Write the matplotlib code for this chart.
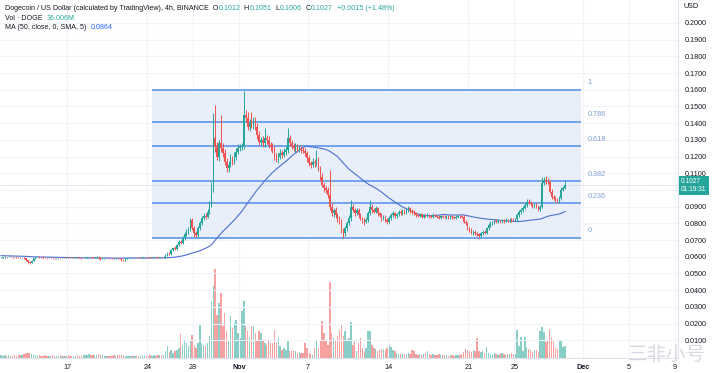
import numpy as np
import pandas as pd
import matplotlib
matplotlib.use("Agg")
import matplotlib.pyplot as plt
import matplotlib.dates as mdates
from matplotlib.patches import Rectangle

plt.rcParams['font.family'] = ['Liberation Sans', 'DejaVu Sans']

# ---------------- data (prices in 1e-4 USD, volume in millions DOGE) ----------------
first_open = 594
closes = [
    595, 597, 599, 598, 600, 598, 597, 596, 595, 594, 592, 593, 590, 580, 568, 565, 575, 590, 598, 600, 597,
    596, 594, 593, 592, 594, 593, 592, 591, 592, 593, 592, 594, 593, 595, 594, 593, 592, 594, 595, 594, 593, 592, 593, 594, 596,
    598, 596, 594, 597, 600, 592, 586, 590, 592, 594, 593, 592, 591, 590, 592, 591, 588, 582, 580, 588,
    592, 593, 594, 593, 595, 594, 593, 595, 596, 598, 597, 596, 595, 596, 597, 596, 595, 597, 596, 598,
    610, 622, 618, 640, 652, 648, 670, 690, 685, 712, 735, 750, 765, 820, 770, 745, 730, 770, 800, 830, 845, 840, 870, 915, 1020,
    1310, 1260, 1200, 1280, 1250, 1220, 1170, 1130, 1150, 1185, 1170, 1200, 1230, 1250, 1255, 1265,
    1450, 1430, 1380, 1400, 1390, 1410, 1380, 1330, 1290, 1300, 1280, 1310, 1300, 1270, 1260,
    1240, 1200, 1180, 1200, 1220, 1210, 1230, 1240, 1310, 1280, 1265, 1250, 1260, 1245, 1250, 1240, 1235,
    1220, 1190, 1160, 1150, 1170, 1160, 1175, 1130, 1080, 1030, 1010, 1000, 970,
    900, 860, 880, 850, 830, 810, 760, 740, 770, 800, 830, 900,
    880, 860, 880, 850, 830, 820, 810, 820, 860, 900, 880, 870, 890, 860, 850, 830,
    840, 820, 810, 830, 850, 860, 845, 855, 870, 860, 875, 865, 880, 890, 875, 868,
    860, 850, 845, 855, 840, 850, 845, 850, 845, 840, 850, 845, 840, 835, 842, 840,
    838, 840, 836, 842, 838, 835, 840, 845, 842, 840,
    810, 800, 770, 760, 745, 750, 740, 735, 725, 740, 750, 745,
    770, 790, 800, 805, 815, 810, 815, 812, 818, 815, 820, 818, 822, 821, 820, 825,
    850, 870, 880, 895, 910, 930, 925, 915, 905, 910, 900, 885, 900,
    1040, 1060, 1050, 1045, 990, 960, 950, 940, 935, 950, 1000, 1012, 1027,
]
upper_wick = [
    3, 2, 3, 2, 3, 2, 2, 3, 2, 2, 3, 2, 3, 4, 3, 4, 5, 4, 3, 4, 3,
    2, 3, 2, 2, 3, 2, 2, 3, 2, 2, 3, 2, 2, 3, 2, 2, 3, 2, 2, 3, 2, 3, 2, 2, 3,
    3, 2, 3, 4, 5, 3, 2, 3, 2, 3, 2, 2, 3, 2, 3, 2, 2, 3, 2, 3,
    2, 3, 2, 2, 3, 2, 2, 3, 2, 3, 2, 2, 3, 2, 2, 3, 2, 3, 2, 4,
    6, 5, 8, 6, 8, 10, 8, 10, 12, 10, 12, 15, 15, 15, 12, 15, 10, 12, 15, 12, 15, 20, 18, 20, 30,
    150, 200, 30, 20, 170, 30, 25, 20, 25, 30, 20, 25, 20, 25, 20, 15,
    140, 30, 35, 25, 70, 30, 25, 20, 25, 20, 25, 60, 20, 25, 20,
    20, 25, 20, 20, 25, 20, 20, 25, 60, 20, 20, 15, 20, 15, 20, 15, 15,
    15, 15, 20, 15, 20, 15, 65, 20, 15, 20, 15, 15, 15,
    150, 20, 15, 20, 15, 15, 15, 15, 15, 15, 20, 40,
    15, 10, 15, 10, 10, 10, 10, 10, 15, 40, 15, 10, 15, 10, 10, 10,
    10, 10, 10, 12, 10, 12, 10, 10, 12, 10, 10, 10, 12, 15, 10, 10,
    10, 8, 8, 10, 8, 8, 8, 10, 8, 8, 10, 8, 8, 8, 10, 8,
    8, 8, 10, 8, 8, 8, 10, 8, 8, 8,
    10, 12, 10, 10, 12, 10, 10, 8, 10, 10, 12, 10,
    10, 10, 12, 10, 12, 10, 10, 8, 10, 8, 10, 8, 10, 8, 10, 10,
    10, 12, 10, 12, 12, 15, 15, 10, 10, 12, 10, 10, 12,
    40, 20, 25, 20, 15, 15, 12, 15, 12, 12, 15, 10, 24,
]
lower_wick = [
    2, 3, 2, 3, 2, 2, 3, 2, 3, 2, 2, 3, 4, 5, 6, 8, 3, 2, 3, 2, 3,
    3, 2, 2, 3, 2, 2, 3, 2, 2, 3, 2, 2, 3, 2, 2, 3, 2, 2, 3, 2, 2, 3, 2, 3, 2,
    2, 3, 2, 3, 2, 3, 4, 2, 3, 2, 2, 3, 2, 2, 3, 2, 4, 5, 6, 3,
    3, 2, 2, 3, 2, 2, 3, 2, 3, 2, 2, 3, 2, 2, 3, 2, 2, 3, 2, 3,
    4, 5, 6, 5, 6, 8, 6, 8, 10, 8, 10, 10, 12, 12, 10, 25, 12, 12, 10, 12, 10, 12, 10, 15, 15,
    30, 30, 20, 25, 20, 25, 20, 20, 20, 15, 20, 15, 20, 15, 15, 15,
    20, 25, 20, 25, 20, 25, 20, 25, 20, 25, 20, 20, 25, 20, 25,
    20, 20, 15, 20, 15, 20, 15, 20, 20, 15, 20, 15, 20, 15, 15, 20, 15,
    15, 20, 15, 20, 15, 20, 15, 15, 20, 15, 20, 15, 20,
    20, 15, 20, 15, 20, 15, 20, 25, 15, 15, 10, 15,
    10, 15, 10, 15, 10, 15, 20, 10, 10, 10, 15, 10, 10, 15, 10, 15,
    10, 12, 12, 10, 10, 10, 12, 10, 10, 12, 10, 10, 10, 10, 12, 10,
    8, 10, 8, 8, 10, 8, 8, 8, 10, 8, 8, 8, 10, 8, 8, 8,
    8, 10, 8, 8, 10, 8, 8, 8, 10, 8,
    10, 10, 12, 10, 10, 12, 10, 10, 13, 10, 10, 10,
    8, 10, 10, 10, 8, 10, 8, 10, 8, 10, 8, 10, 8, 10, 8, 8,
    10, 10, 12, 10, 10, 12, 10, 10, 12, 10, 10, 10, 10,
    10, 12, 15, 12, 10, 15, 12, 12, 15, 10, 10, 8, 6,
]
volume_m = [
    8, 7, 9, 6, 8, 7, 6, 8, 7, 9, 8, 10, 12, 14, 16, 15, 11, 9, 8, 7, 8,
    7, 6, 8, 7, 6, 7, 8, 6, 7, 6, 8, 7, 6, 7, 8, 6, 7, 6, 7, 8, 6, 7, 8, 9, 8,
    12, 10, 9, 8, 9, 11, 10, 8, 7, 6, 7, 6, 7, 8, 7, 8, 9, 8, 10, 7,
    6, 7, 6, 7, 6, 7, 6, 7, 8, 7, 6, 7, 8, 7, 8, 7, 8, 9, 8, 10,
    20, 36, 18, 24, 15, 20, 25, 30, 72, 40, 55, 45, 35, 50, 69, 40, 30, 45, 99, 45, 40, 35, 45, 65, 171,
    216, 267, 130, 165, 195, 96, 135, 81, 54, 126, 90, 105, 114, 75, 60, 141,
    171, 96, 81, 60, 96, 96, 75, 54, 81, 75, 51, 45, 39, 51, 45,
    45, 84, 45, 60, 36, 24, 30, 24, 51, 21, 21, 24, 21, 15, 18, 15, 15,
    45, 30, 15, 12, 9, 30, 51, 30, 51, 111, 75, 51, 39,
    228, 75, 60, 51, 66, 84, 99, 66, 81, 51, 60, 108,
    39, 51, 21, 45, 60, 30, 21, 30, 81, 81, 39, 30, 27, 21, 24, 27,
    27, 24, 30, 39, 33, 24, 21, 15, 12, 12, 15, 12, 12, 15, 12, 24,
    21, 12, 9, 12, 9, 12, 15, 21, 12, 9, 12, 9, 10, 12, 9, 8,
    8, 9, 7, 8, 9, 7, 8, 9, 10, 12,
    18, 27, 24, 21, 18, 24, 21, 60, 21, 18, 21, 15,
    33, 15, 12, 9, 15, 12, 9, 12, 15, 12, 9, 12, 12, 15, 12, 12,
    84, 36, 63, 21, 63, 33, 27, 24, 18, 21, 24, 18, 81,
    93, 77, 47, 52, 87, 64, 52, 30, 27, 54, 54, 33, 36,
]
# closes before the first visible candle (needed for the 50-period SMA)
warmup_closes = [
    612, 610, 611, 609, 612, 613, 611, 610, 608, 609, 611, 612, 610, 609, 607, 608, 610,
    611, 609, 608, 606, 607, 609, 610, 608, 607, 605, 606, 608, 607, 605, 604, 606, 607,
    605, 603, 604, 606, 605, 603, 602, 604, 605, 603, 601, 602, 604, 603, 600,
]
first_candle_time = "2022-10-11 06:00"
ma_period = 50

# Fibonacci retracement
fib_levels = [1, 0.786, 0.618, 0.382, 0.236, 0]
fib_labels = ["1", "0.786", "0.618", "0.382", "0.236", "0"]
fib_high = 0.1599
fib_low = 0.0713
fib_start = "2022-10-24 10:00"
fib_end = "2022-11-30 19:00"

price_ticks = [round(0.01 * k, 2) for k in range(1, 21)]
date_ticks = ["2022-10-17", "2022-10-24", "2022-10-28", "2022-11-01", "2022-11-07",
              "2022-11-14", "2022-11-21", "2022-11-25", "2022-12-01", "2022-12-05", "2022-12-09"]
date_tick_labels = ["17", "24", "28", "Nov", "7", "14", "21", "25", "Dec", "5", "9"]

last_o, last_h, last_l, last_c = "0.1012", "0.1051", "0.1006", "0.1027"
change_txt = "+0.0015 (+1.48%)"
vol_txt = "36.006M"
ma_txt = "0.0864"
countdown = "01:19:31"
watermark = "三非小号"

# ---------------- derived ----------------
scale = 1e-4
c = np.array(closes) * scale
o = np.concatenate([[first_open * scale], c[:-1]])
h = np.maximum(o, c) + np.array(upper_wick) * scale
l = np.minimum(o, c) - np.array(lower_wick) * scale
vol = np.array(volume_m, dtype=float)
n = len(c)
times = pd.date_range(first_candle_time, periods=n, freq="4h")
x = mdates.date2num(times.to_pydatetime())
sma = pd.Series(np.concatenate([np.array(warmup_closes) * scale, c])).rolling(ma_period).mean().to_numpy()[len(warmup_closes):]

UP = "#26a69a"
DN = "#ef5350"
up = c >= o

W, H = 718, 373
YMIN, YMAX = -0.000599, 0.21377
fig = plt.figure(figsize=(W / 100, H / 100), dpi=100)
fig.patch.set_facecolor("white")
ax = fig.add_axes([0, 15 / H, 678 / W, 358 / H])
ax2 = ax.twinx()
ax.set_zorder(2)
ax2.set_zorder(1)
ax.patch.set_visible(False)

ref = mdates.date2num(pd.Timestamp("2022-10-17").to_pydatetime())
ax.set_xlim(ref - 5.841, ref + 53.27)
ax.set_ylim(YMIN, YMAX)
ax2.set_ylim(0, 1074)

# grid
for p in price_ticks:
    ax.axhline(p, color="#f0f3fa", lw=0.8, zorder=0)
xt = mdates.date2num([pd.Timestamp(d).to_pydatetime() for d in date_ticks])
for xx in xt:
    ax.axvline(xx, color="#f0f3fa", lw=0.8, zorder=0)

# fib box
fs_ = mdates.date2num(pd.Timestamp(fib_start).to_pydatetime())
fe_ = mdates.date2num(pd.Timestamp(fib_end).to_pydatetime())
ax.add_patch(Rectangle((fs_, fib_low), fe_ - fs_, fib_high - fib_low,
                       facecolor="#e8effb", edgecolor="none", zorder=0.5))
for lv, lb in zip(fib_levels, fib_labels):
    yv = fib_low + lv * (fib_high - fib_low)
    ax.plot([fs_, fe_], [yv, yv], color="#5d95e8", lw=1.2, zorder=1, solid_capstyle="butt")
    ax.annotate(lb, (fe_, yv), xytext=(5, 2.5), textcoords="offset points",
                fontsize=5.2, color="#7d9fcf", va="bottom", ha="left")

# volume
vcol = np.where(up, UP, DN)
ax2.bar(x, vol, width=0.75 / 6, color=vcol, alpha=0.55, linewidth=0)
ax2.set_yticks([])
for s in ax2.spines.values():
    s.set_visible(False)

# price line
ax.axhline(c[-1], color="#c3c7cf", lw=0.6, ls=(0, (1.5, 1.5)), zorder=1.5)

# MA
ax.plot(x, sma, color="#4d6fd0", lw=0.8, zorder=2)

# candles
ccol = np.where(up, UP, DN)
ax.vlines(x, l, h, colors=ccol, lw=0.7, zorder=3)
body_h = np.maximum(np.abs(c - o), 0.00006)
ax.bar(x, body_h, bottom=np.minimum(o, c), width=0.75 / 6, color=ccol, linewidth=0, zorder=4)

# axes styling
ax.yaxis.tick_right()
ax.set_yticks(price_ticks)
# the 0.1000 label is hidden behind the last-price tag in the reference
ax.set_yticklabels(["" if abs(p - 0.10) < 1e-9 else f"{p:.4f}" for p in price_ticks])
ax.tick_params(axis="y", length=0, pad=5, labelsize=5.2, labelcolor="#131722")
ax.set_xticks(xt)
ax.set_xticklabels(date_tick_labels)
ax.tick_params(axis="x", length=0, pad=4, labelsize=5.2, labelcolor="#131722")
for t in ax.get_xticklabels():
    if t.get_text() in ("Nov", "Dec"):
        t.set_fontweight("bold")
for k, s in ax.spines.items():
    if k in ("right", "bottom"):
        s.set_color("#e0e3eb")
        s.set_linewidth(0.8)
    else:
        s.set_visible(False)

fig.text(683 / W, 1 - 6 / H, "USD", fontsize=5.2, color="#131722", va="center", ha="left")

# current price label
yfrac = (15 + (c[-1] - YMIN) / (YMAX - YMIN) * 358) / H
fig.text(681 / W, yfrac, f"{last_c}\n{countdown}", fontsize=4.8, color="white",
         va="center", ha="left", linespacing=1.1,
         bbox=dict(boxstyle="square,pad=0.35", facecolor=UP, edgecolor="none"), zorder=10)

# header legend
fig.canvas.draw()
renderer = fig.canvas.get_renderer()


def chain(parts, x0, ypix, fs=5.1):
    xp = x0
    for s, col in parts:
        t = fig.text(xp / W, 1 - ypix / H, s, color=col, fontsize=fs, va="center", ha="left")
        bb = t.get_window_extent(renderer)
        xp = bb.x1


DARK = "#131722"
chain([("Dogecoin / US Dollar (calculated by TradingView), 4h, BINANCE  O", DARK), (last_o, UP),
       ("  H", DARK), (last_h, UP), ("  L", DARK), (last_l, UP), ("  C", DARK), (last_c, UP),
       ("  " + change_txt, UP)], 5, 8.5)
chain([("Vol · DOGE  ", DARK), (vol_txt, UP)], 5, 18)
chain([("MA (50, close, 0, SMA, 5)  ", DARK), (ma_txt, "#2962ff")], 5, 27.5)

# watermark
fig.text(667 / W, 1 - 354 / H, watermark, fontsize=14, color="#cfd3da", alpha=0.85,
         family=["Noto Sans CJK SC", "DejaVu Sans"], va="center", ha="center", zorder=11)

fig.savefig("out.png", dpi=100, facecolor="white")
